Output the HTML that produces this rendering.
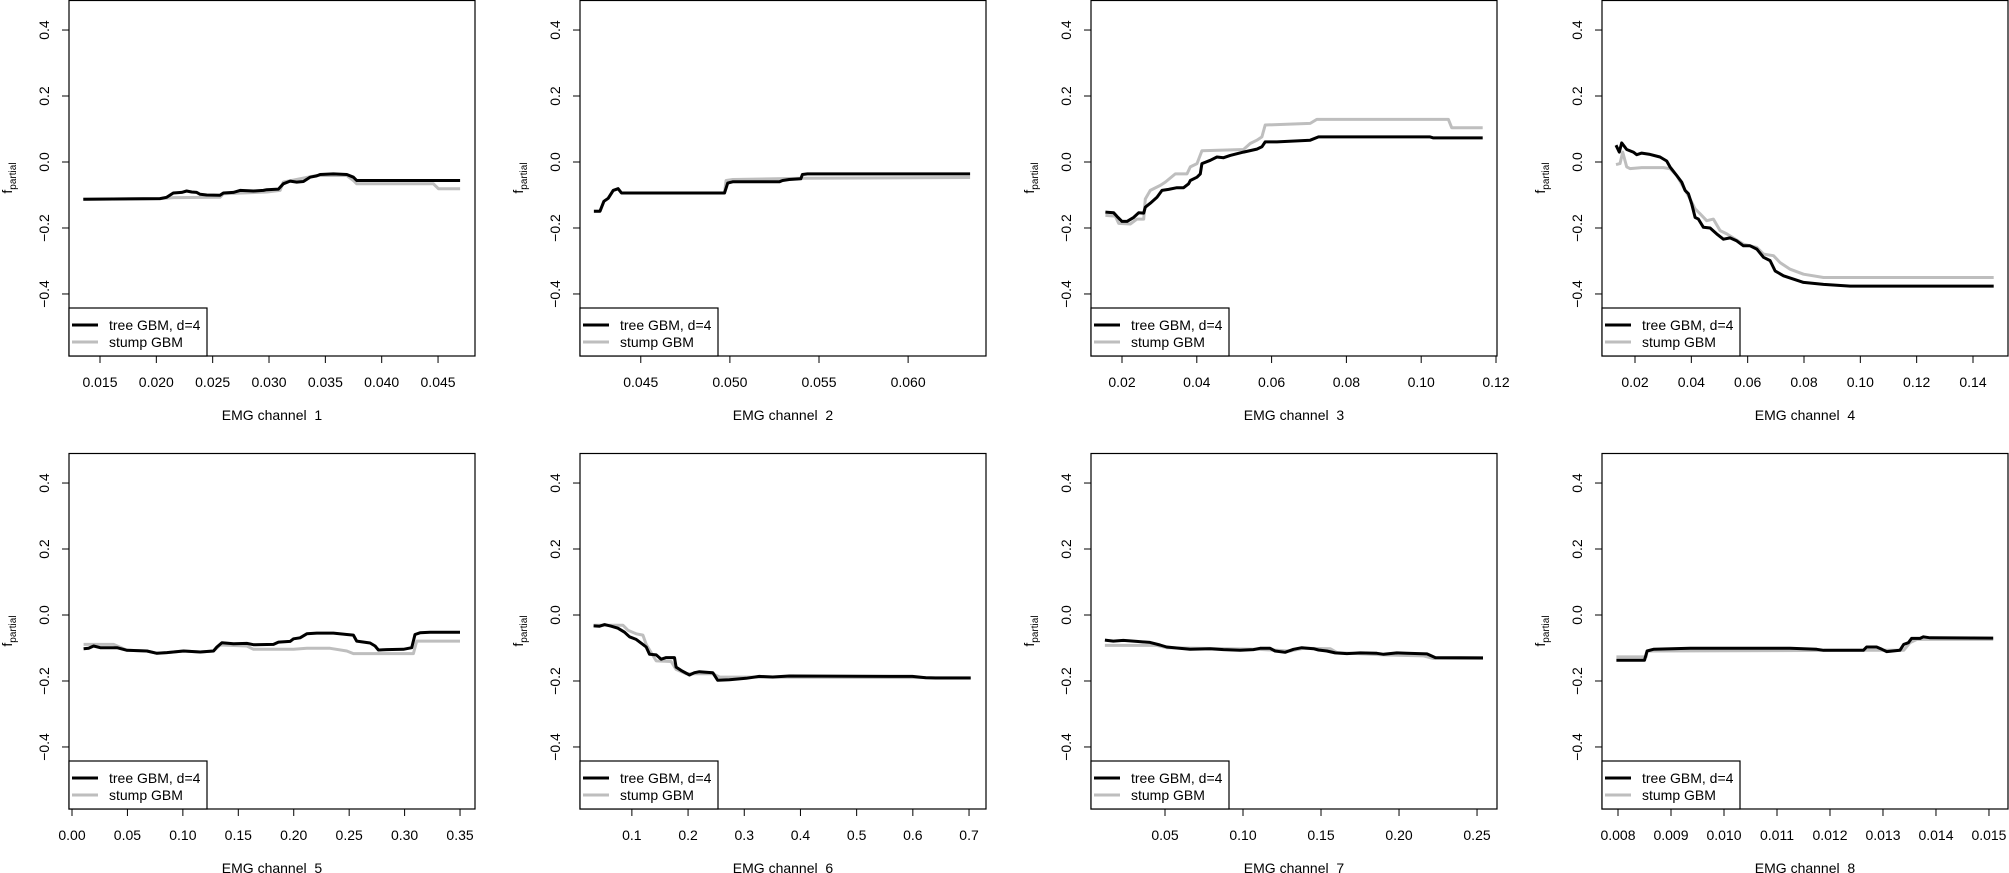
<!DOCTYPE html>
<html><head><meta charset="utf-8">
<style>
html,body{margin:0;padding:0;background:#fff;}
svg{display:block;font-family:"Liberation Sans",Arial,sans-serif;}
</style></head>
<body>
<svg id="chart" width="2009" height="873" viewBox="0 0 2009 873" xmlns="http://www.w3.org/2000/svg"></svg>
<script>
// ---- data ----
const channelNames = ["EMG channel  1","EMG channel  2","EMG channel  3","EMG channel  4","EMG channel  5","EMG channel  6","EMG channel  7","EMG channel  8"];
const yTicks = [-0.4,-0.2,0.0,0.2,0.4];
const yTickLabels = ["\u22120.4","\u22120.2","0.0","0.2","0.4"];
const legendLabels = ["tree GBM, d=4","stump GBM"];

const xTicks1 = [0.015,0.020,0.025,0.030,0.035,0.040,0.045];
const xTicks2 = [0.045,0.050,0.055,0.060];
const xTicks3 = [0.02,0.04,0.06,0.08,0.10,0.12];
const xTicks4 = [0.02,0.04,0.06,0.08,0.10,0.12,0.14];
const xTicks5 = [0.00,0.05,0.10,0.15,0.20,0.25,0.30,0.35];
const xTicks6 = [0.1,0.2,0.3,0.4,0.5,0.6,0.7];
const xTicks7 = [0.05,0.10,0.15,0.20,0.25];
const xTicks8 = [0.008,0.009,0.010,0.011,0.012,0.013,0.014,0.015];
const xDecimals = [3,3,2,2,2,1,2,3];
const xLim = [[0.01225,0.04828],[0.04159,0.06437],[0.01171,0.12027],[0.00828,0.15243],[-0.0027,0.3635],[0.00769,0.7302],[0.00257,0.2628],[0.0076981,0.015359]];

const tree1X=[0.01352,0.02033,0.02092,0.02151,0.02225,0.02269,0.02314,0.02358,0.02388,0.02447,0.02565,0.02595,0.02684,0.02743,0.02861,0.0295,0.0298,0.03083,0.03127,0.03187,0.03246,0.03305,0.03364,0.03423,0.03453,0.03571,0.0369,0.03749,0.03778,0.04696];
const tree1Y=[-0.113,-0.111,-0.107,-0.094,-0.092,-0.088,-0.091,-0.092,-0.098,-0.100,-0.101,-0.094,-0.092,-0.086,-0.088,-0.086,-0.084,-0.082,-0.066,-0.058,-0.061,-0.059,-0.046,-0.042,-0.038,-0.036,-0.038,-0.046,-0.056,-0.056];
const stump1X=[0.01352,0.02033,0.02151,0.02565,0.02595,0.0298,0.03098,0.03127,0.03423,0.0369,0.03749,0.03778,0.04459,0.04503,0.04696];
const stump1Y=[-0.113,-0.111,-0.108,-0.107,-0.096,-0.091,-0.086,-0.061,-0.041,-0.041,-0.056,-0.066,-0.066,-0.081,-0.081];

const tree2X=[0.04237,0.04271,0.04293,0.04317,0.04345,0.04373,0.04392,0.0442,0.0497,0.04988,0.05016,0.05277,0.05296,0.05333,0.05398,0.05407,0.05435,0.06348];
const tree2Y=[-0.149,-0.149,-0.119,-0.110,-0.086,-0.081,-0.094,-0.094,-0.094,-0.064,-0.060,-0.060,-0.056,-0.053,-0.051,-0.038,-0.036,-0.036];
const stump2X=[0.04237,0.04271,0.04293,0.04317,0.04345,0.04373,0.04392,0.0442,0.0497,0.04979,0.05016,0.05416,0.06348];
const stump2Y=[-0.149,-0.149,-0.119,-0.110,-0.086,-0.081,-0.094,-0.094,-0.094,-0.056,-0.053,-0.049,-0.047];

const tree3X=[0.01555,0.01777,0.01866,0.02,0.02134,0.02312,0.02445,0.02579,0.02623,0.02757,0.02935,0.03069,0.03247,0.03469,0.03647,0.03781,0.03826,0.04004,0.04093,0.04137,0.0436,0.04538,0.04716,0.04894,0.0525,0.05607,0.0574,0.05829,0.06141,0.07031,0.07254,0.10237,0.10326,0.11644];
const tree3Y=[-0.152,-0.154,-0.165,-0.180,-0.180,-0.168,-0.154,-0.155,-0.137,-0.125,-0.107,-0.086,-0.083,-0.078,-0.078,-0.066,-0.056,-0.046,-0.036,-0.005,0.005,0.015,0.013,0.020,0.030,0.039,0.046,0.061,0.061,0.066,0.076,0.076,0.073,0.073];
const stump3X=[0.01555,0.01822,0.01911,0.02223,0.02401,0.02579,0.02623,0.02757,0.03024,0.03158,0.03425,0.03737,0.03826,0.04004,0.04137,0.0525,0.05428,0.05607,0.0574,0.05829,0.07031,0.07209,0.10727,0.10816,0.11644];
const stump3Y=[-0.162,-0.164,-0.186,-0.188,-0.173,-0.173,-0.112,-0.086,-0.071,-0.061,-0.036,-0.036,-0.015,-0.005,0.034,0.038,0.056,0.066,0.076,0.112,0.117,0.129,0.129,0.104,0.104];

const tree4X=[0.01325,0.01443,0.01526,0.01704,0.01941,0.02059,0.02237,0.02533,0.02888,0.03125,0.03244,0.03481,0.03658,0.03777,0.03895,0.04014,0.04132,0.04251,0.04428,0.04665,0.04902,0.05139,0.05376,0.05613,0.0585,0.06087,0.06324,0.06561,0.06798,0.06975,0.07271,0.07982,0.08338,0.08693,0.09641,0.14735];
const tree4Y=[0.051,0.030,0.058,0.038,0.030,0.022,0.027,0.023,0.015,0.003,-0.015,-0.041,-0.061,-0.086,-0.096,-0.127,-0.168,-0.173,-0.198,-0.200,-0.218,-0.234,-0.230,-0.239,-0.254,-0.254,-0.264,-0.289,-0.299,-0.330,-0.345,-0.365,-0.368,-0.371,-0.376,-0.376];
const stump4X=[0.01325,0.01467,0.01562,0.01704,0.01822,0.02237,0.03007,0.03244,0.03481,0.03718,0.03955,0.04132,0.0431,0.04547,0.04784,0.05021,0.05258,0.05613,0.0585,0.06087,0.06324,0.06561,0.06916,0.07153,0.07508,0.07982,0.08693,0.14735];
const stump4Y=[-0.008,-0.005,0.030,-0.015,-0.020,-0.017,-0.017,-0.020,-0.041,-0.076,-0.112,-0.142,-0.157,-0.178,-0.173,-0.208,-0.218,-0.237,-0.249,-0.254,-0.259,-0.279,-0.284,-0.305,-0.325,-0.340,-0.350,-0.350];

const tree5X=[0.01051,0.01502,0.01953,0.02553,0.04055,0.04957,0.06759,0.0766,0.08561,0.10063,0.11565,0.12767,0.13067,0.13518,0.14569,0.15771,0.16372,0.18174,0.18625,0.19676,0.19977,0.20577,0.21178,0.2208,0.23582,0.24783,0.25384,0.25684,0.26886,0.27336,0.27637,0.28388,0.2989,0.30641,0.30941,0.31392,0.32293,0.34997];
const tree5Y=[-0.102,-0.101,-0.094,-0.099,-0.099,-0.107,-0.109,-0.116,-0.114,-0.109,-0.112,-0.109,-0.097,-0.084,-0.087,-0.086,-0.090,-0.089,-0.082,-0.080,-0.072,-0.069,-0.057,-0.055,-0.055,-0.059,-0.061,-0.079,-0.085,-0.094,-0.106,-0.105,-0.104,-0.099,-0.059,-0.054,-0.052,-0.052];
const stump5X=[0.01051,0.03755,0.04957,0.06759,0.0766,0.08561,0.10063,0.11565,0.12767,0.13368,0.15771,0.16372,0.19977,0.21178,0.23281,0.24783,0.25384,0.3079,0.31091,0.34997];
const stump5Y=[-0.089,-0.089,-0.107,-0.109,-0.116,-0.114,-0.109,-0.112,-0.109,-0.091,-0.094,-0.104,-0.104,-0.101,-0.101,-0.109,-0.117,-0.117,-0.079,-0.079];

const tree6X=[0.03189,0.04255,0.05143,0.06328,0.07512,0.08697,0.09585,0.1077,0.11955,0.12547,0.13139,0.14324,0.15212,0.16101,0.17582,0.17878,0.18766,0.20247,0.21135,0.22024,0.24393,0.25282,0.27355,0.30316,0.32685,0.35055,0.38016,0.59931,0.62301,0.64077,0.70297];
const tree6Y=[-0.033,-0.034,-0.029,-0.034,-0.040,-0.052,-0.066,-0.074,-0.089,-0.097,-0.119,-0.121,-0.134,-0.129,-0.129,-0.158,-0.168,-0.182,-0.175,-0.172,-0.175,-0.198,-0.196,-0.192,-0.186,-0.188,-0.185,-0.186,-0.190,-0.191,-0.191];
const stump6X=[0.03189,0.084,0.09289,0.1077,0.11955,0.12547,0.14324,0.16989,0.17878,0.19654,0.24393,0.25578,0.70297];
const stump6Y=[-0.031,-0.031,-0.046,-0.057,-0.061,-0.089,-0.139,-0.141,-0.165,-0.178,-0.178,-0.188,-0.190];

const tree7X=[0.0115,0.01685,0.02326,0.03182,0.04037,0.04679,0.05107,0.05749,0.06604,0.07888,0.08743,0.09813,0.10668,0.11096,0.11738,0.12059,0.127,0.13235,0.1377,0.14519,0.1484,0.15374,0.15909,0.16658,0.17513,0.18583,0.19011,0.19866,0.20508,0.21791,0.22326,0.25385];
const tree7Y=[-0.076,-0.079,-0.077,-0.080,-0.083,-0.091,-0.097,-0.100,-0.104,-0.102,-0.105,-0.107,-0.105,-0.101,-0.101,-0.109,-0.113,-0.104,-0.099,-0.102,-0.106,-0.109,-0.115,-0.117,-0.115,-0.116,-0.119,-0.115,-0.116,-0.118,-0.129,-0.130];
const stump7X=[0.0115,0.04465,0.05107,0.10882,0.12166,0.13021,0.13877,0.15588,0.16016,0.19011,0.21578,0.22219,0.25385];
const stump7Y=[-0.092,-0.092,-0.099,-0.104,-0.107,-0.109,-0.101,-0.102,-0.114,-0.121,-0.124,-0.132,-0.132];

const tree8X=[0.00797,0.0085,0.00855,0.00867,0.00936,0.01125,0.01175,0.01188,0.01263,0.01269,0.01288,0.01298,0.01307,0.01332,0.01339,0.01348,0.01354,0.0137,0.01376,0.01389,0.01508];
const tree8Y=[-0.137,-0.137,-0.109,-0.104,-0.101,-0.101,-0.104,-0.107,-0.107,-0.097,-0.097,-0.104,-0.111,-0.107,-0.089,-0.084,-0.071,-0.071,-0.066,-0.069,-0.070];
const stump8X=[0.00797,0.00853,0.00855,0.01263,0.01339,0.01351,0.01364,0.01389,0.01508];
const stump8Y=[-0.127,-0.127,-0.109,-0.107,-0.107,-0.084,-0.074,-0.074,-0.074];

const allXTicks=[xTicks1,xTicks2,xTicks3,xTicks4,xTicks5,xTicks6,xTicks7,xTicks8];
const treeXs=[tree1X,tree2X,tree3X,tree4X,tree5X,tree6X,tree7X,tree8X];
const treeYs=[tree1Y,tree2Y,tree3Y,tree4Y,tree5Y,tree6Y,tree7Y,tree8Y];
const stumpXs=[stump1X,stump2X,stump3X,stump4X,stump5X,stump6X,stump7X,stump8X];
const stumpYs=[stump1Y,stump2Y,stump3Y,stump4Y,stump5Y,stump6Y,stump7Y,stump8Y];

// ---- layout ----
const NS="http://www.w3.org/2000/svg";
const svg=document.getElementById('chart');
const colLeft=[69,580,1091,1602];
const boxW=406;
const rowTop=[0,453];
const boxH=356;
const yTop=0.491, yBot=-0.588;

function mk(tag,attrs,parent){const e=document.createElementNS(NS,tag);for(const k in attrs)e.setAttribute(k,attrs[k]);(parent||svg).appendChild(e);return e;}

for(let p=0;p<8;p++){
  const L=colLeft[p%4], T=rowTop[Math.floor(p/4)], R=L+boxW, B=T+boxH;
  const xs=v=>L+(v-xLim[p][0])/(xLim[p][1]-xLim[p][0])*boxW;
  const ys=v=>T+(yTop-v)/(yTop-yBot)*boxH;
  const g=mk('g',{});
  
  

  // y axis
  const yg=mk('g',{},g);
  
  
  yTicks.forEach((t,i)=>{
    const y=ys(t);
    const tk=mk('line',{x1:L,x2:L-7,y1:y,y2:y,stroke:'#000','stroke-width':1},yg);
    
    
    const tx=mk('text',{x:L-20,y:y,'font-size':14,'text-anchor':'middle',transform:`rotate(-90 ${L-20} ${y})`},yg);
    
    
    tx.textContent=yTickLabels[i];
  });
  const yl=mk('text',{x:L-57,y:(T+B)/2,'font-size':14,'text-anchor':'middle',transform:`rotate(-90 ${L-57} ${(T+B)/2})`},yg);
  
  
  yl.innerHTML='f<tspan font-size="10" dy="4">partial</tspan>';

  // x axis
  const xg=mk('g',{},g);
  
  
  const tks=allXTicks[p];
  mk('line',{x1:xs(tks[0]),x2:xs(tks[tks.length-1]),y1:B,y2:B,stroke:'#000','stroke-width':1},xg);
  tks.forEach(t=>{
    const x=xs(t);
    const tk=mk('line',{x1:x,x2:x,y1:B,y2:B+7,stroke:'#000','stroke-width':1},xg);
    
    
    const tx=mk('text',{x:x,y:B+31,'font-size':14,'text-anchor':'middle'},xg);
    
    
    tx.textContent=t.toFixed(xDecimals[p]);
  });
  const xl=mk('text',{x:(L+R)/2,y:B+64,'font-size':14,'text-anchor':'middle'},xg);
  
  
  xl.setAttribute('xml:space','preserve');
  xl.style.whiteSpace='pre';
  xl.textContent=channelNames[p];

  // series
  const sp=stumpXs[p].map((v,i)=>xs(v).toFixed(1)+','+ys(stumpYs[p][i]).toFixed(1)).join(' ');
  const s=mk('polyline',{points:sp,fill:'none',stroke:'#bebebe','stroke-width':3,'stroke-linejoin':'round'},g);
  
  
  const tp=treeXs[p].map((v,i)=>xs(v).toFixed(1)+','+ys(treeYs[p][i]).toFixed(1)).join(' ');
  const t=mk('polyline',{points:tp,fill:'none',stroke:'#000','stroke-width':3,'stroke-linejoin':'round'},g);
  
  

  // box
  const bx=mk('rect',{x:L,y:T+0.5,width:boxW,height:boxH-0.5,fill:'none',stroke:'#000','stroke-width':1.2},g);
  
  

  // legend
  const lg=mk('g',{},g);
  
  
  mk('rect',{x:L,y:B-48,width:138,height:48,fill:'#fff',stroke:'#000','stroke-width':1.2},lg);
  const cols=['#000','#bebebe'];
  legendLabels.forEach((lab,i)=>{
    const yy=B-31+i*17;
    const ln=mk('line',{x1:L+3,x2:L+29,y1:yy,y2:yy,stroke:cols[i],'stroke-width':3},lg);
    
    
    const tx=mk('text',{x:L+40,y:yy+5,'font-size':14},lg);
    
    
    tx.textContent=lab;
  });
}
</script>
</body></html>
